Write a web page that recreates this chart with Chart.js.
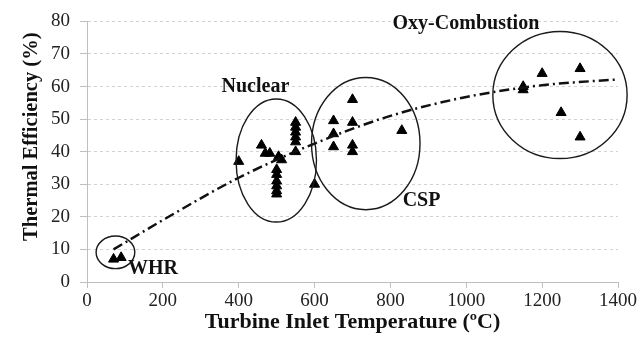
<!DOCTYPE html>
<html>
<head>
<meta charset="utf-8">
<script src="https://cdn.jsdelivr.net/npm/chart.js@4.4.1/dist/chart.umd.min.js"></script>
<style>
  html, body { margin: 0; padding: 0; background: #fff; }
</style>
</head>
<body>
<canvas id="efficiencyChart" width="642" height="344"></canvas>
<script>
// cycles: turbine inlet temperature (ºC) vs thermal efficiency (%)
const whrTemp = [70, 90];
const whrEff = [7.0, 7.5];
const nuclearTemp = [400, 460, 470, 482, 505, 513, 500, 500, 500, 500, 500, 500, 550, 550, 550, 550, 550, 550, 600];
const nuclearEff = [37, 42, 39.5, 39.5, 38.5, 37.5, 34.5, 33, 31, 29.5, 28, 27, 49, 47.5, 46, 44.5, 43, 40, 30];
const cspTemp = [650, 650, 650, 700, 700, 700, 700, 830];
const cspEff = [49.5, 45.5, 41.5, 56, 49, 42, 40, 46.5];
const oxyTemp = [1150, 1150, 1200, 1250, 1300, 1300];
const oxyEff = [60, 59, 64, 52, 65.5, 44.5];

// dash-dot trend curve
const trendTemp = [70, 200, 400, 600, 800, 1000, 1200, 1400];
const trendEff = [10, 19, 32, 42.5, 51, 56.8, 60.4, 62.2];

// cluster outlines (centre and half-widths in axis units) and their labels
const groupNames = ['WHR', 'Nuclear', 'CSP', 'Oxy-Combustion'];
const groupCenterTemp = [75, 499, 735, 1247];
const groupCenterEff = [9.1, 37.3, 42.5, 57.4];
const groupRadiusTemp = [51, 106, 143, 177];
const groupRadiusEff = [5.0, 18.9, 20.3, 19.5];
const labelTemp = [174, 444, 882, 999];
const labelEff = [4.1, 60, 24.9, 79.2];

const xTicks = [0, 200, 400, 600, 800, 1000, 1200, 1400];
const yTicks = [0, 10, 20, 30, 40, 50, 60, 70, 80];

const SERIF = '"Liberation Serif", "Times New Roman", serif';

function toPoints(xs, ys) {
  return xs.map((v, i) => ({ x: v, y: ys[i] }));
}

function markerSet(label, xs, ys) {
  return {
    label,
    data: toPoints(xs, ys),
    pointStyle: 'triangle',
    pointRadius: 5.8,
    pointHoverRadius: 5.8,
    backgroundColor: '#000',
    borderColor: '#000',
    borderWidth: 1,
    showLine: false
  };
}

const clusterOutlines = {
  id: 'clusterOutlines',
  afterDatasetsDraw(chart) {
    const { ctx, scales: { x, y }, chartArea } = chart;
    ctx.save();
    ctx.strokeStyle = '#1a1a1a';
    ctx.lineWidth = 1.4;
    groupNames.forEach((name, i) => {
      const cx = x.getPixelForValue(groupCenterTemp[i]);
      const cy = y.getPixelForValue(groupCenterEff[i]);
      const rx = Math.abs(x.getPixelForValue(groupCenterTemp[i] + groupRadiusTemp[i]) - cx);
      const ry = Math.abs(y.getPixelForValue(groupCenterEff[i] + groupRadiusEff[i]) - cy);
      ctx.beginPath();
      ctx.ellipse(cx, cy, rx, ry, 0, 0, Math.PI * 2);
      ctx.stroke();
    });

    ctx.fillStyle = '#111';
    ctx.font = 'bold 20px ' + SERIF;
    ctx.textAlign = 'center';
    ctx.textBaseline = 'middle';
    groupNames.forEach((name, i) => {
      ctx.fillText(name, x.getPixelForValue(labelTemp[i]), y.getPixelForValue(labelEff[i]));
    });

    // y axis title sits a little above the middle of the axis
    ctx.translate(32, (chartArea.top + chartArea.bottom) / 2 - 15);
    ctx.rotate(-Math.PI / 2);
    ctx.font = 'bold 20.5px ' + SERIF;
    ctx.fillText('Thermal Efficiency (%)', 0, 0);
    ctx.restore();
  }
};

const config = {
  type: 'scatter',
  data: {
    datasets: [
      {
        label: 'Trend',
        type: 'line',
        data: toPoints(trendTemp, trendEff),
        borderColor: '#111',
        borderWidth: 2.5,
        borderDash: [10, 4, 2, 4],
        pointRadius: 0,
        fill: false,
        cubicInterpolationMode: 'monotone'
      },
      markerSet('WHR', whrTemp, whrEff),
      markerSet('Nuclear', nuclearTemp, nuclearEff),
      markerSet('CSP', cspTemp, cspEff),
      markerSet('Oxy-Combustion', oxyTemp, oxyEff)
    ]
  },
  options: {
    responsive: false,
    animation: false,
    devicePixelRatio: 1,
    layout: { padding: { top: 16, right: 24, left: 0, bottom: 0 } },
    plugins: {
      legend: { display: false },
      tooltip: { enabled: false }
    },
    scales: {
      x: {
        type: 'linear',
        min: 0,
        max: 1400,
        afterBuildTicks(scale) { scale.ticks = xTicks.map(v => ({ value: v })); },
        afterFit(scale) { scale.height = 62; },
        ticks: {
          font: { family: SERIF, size: 19 },
          color: '#222',
          padding: 2,
          maxRotation: 0,
          callback: v => String(v)
        },
        grid: { drawOnChartArea: false, tickLength: 6, color: '#bfbfbf' },
        border: { color: '#bfbfbf', width: 1 },
        title: {
          display: true,
          text: 'Turbine Inlet Temperature (ºC)',
          color: '#111',
          font: { family: SERIF, size: 22, weight: 'bold' },
          padding: { top: 0, bottom: 8 }
        }
      },
      y: {
        type: 'linear',
        min: 0,
        max: 80,
        afterBuildTicks(scale) { scale.ticks = yTicks.map(v => ({ value: v })); },
        afterFit(scale) { scale.width = 87; },
        ticks: {
          font: { family: SERIF, size: 19 },
          color: '#222',
          padding: 10,
          callback: v => String(v)
        },
        grid: {
          color: '#d2d2d2',
          tickLength: 7,
          tickColor: '#bfbfbf',
          tickBorderDash: []
        },
        border: { color: '#bfbfbf', width: 1, dash: [3, 3] }
      }
    }
  },
  plugins: [clusterOutlines]
};

const efficiencyChart = new Chart(
  document.getElementById('efficiencyChart'),
  config
);
</script>
</body>
</html>
